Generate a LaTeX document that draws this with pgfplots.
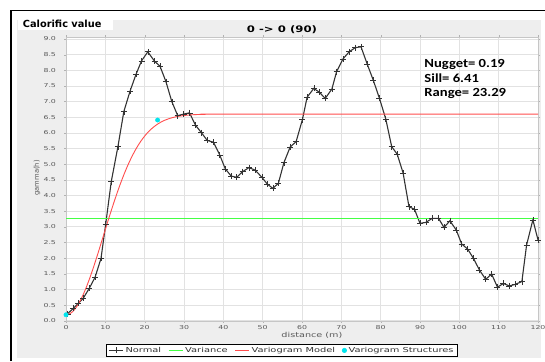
\documentclass[border=0pt]{standalone}
\usepackage{pgfplots}
\pgfplotsset{compat=1.18}
\usepackage{graphicx}
\usepackage{fontspec}
\setmainfont{DejaVu Sans}
\newfontfamily\notefont{Carlito}

\definecolor{panelgray}{HTML}{EEEEEE}
\definecolor{normalgray}{HTML}{333333}
\definecolor{modelred}{HTML}{FF4D4D}
\definecolor{variancegreen}{HTML}{44FF44}
\definecolor{structcyan}{HTML}{00E5EE}
\definecolor{ticktext}{HTML}{5A5A5A}
\definecolor{gridgray}{HTML}{E2E2E2}

% experimental variogram (lag distance, semivariance)
\pgfplotstableread{
x y
0.4 0.22
1.9 0.40
3.1 0.55
4.4 0.72
5.9 1.03
7.4 1.39
8.9 1.99
10.1 3.09
11.5 4.44
13.2 5.56
14.7 6.68
16.3 7.34
17.8 7.87
19.2 8.30
20.8 8.59
22.5 8.29
23.9 8.13
25.4 7.64
26.9 7.00
28.4 6.55
29.9 6.60
31.4 6.64
32.9 6.25
34.4 6.01
35.9 5.76
37.5 5.70
39.1 5.29
40.5 4.85
42.0 4.62
43.4 4.58
44.9 4.76
46.5 4.89
48.1 4.81
49.8 4.58
51.2 4.36
52.6 4.23
54.0 4.39
55.4 5.05
57.0 5.55
58.5 5.72
60.1 6.42
61.3 7.14
63.0 7.42
64.4 7.30
65.9 7.10
67.6 7.40
68.8 7.96
70.4 8.36
72.0 8.59
73.5 8.72
75.0 8.75
76.6 8.19
78.1 7.69
79.7 7.10
81.3 6.44
82.8 5.56
84.2 5.32
85.7 4.72
87.2 3.64
88.6 3.56
90.0 3.11
91.5 3.14
93.1 3.27
94.7 3.27
96.1 2.98
97.6 3.19
99.2 2.90
100.6 2.45
102.1 2.29
103.6 1.99
105.1 1.62
106.7 1.32
108.2 1.49
109.7 1.07
111.2 1.19
112.7 1.11
114.2 1.16
115.9 1.25
117.1 2.42
118.7 3.22
120.0 2.58
}\normaldata

% fitted Gaussian model: nugget 0.19, sill 6.41, range 23.29
\pgfplotstableread{
x y
0 0.190
1 0.225
2 0.330
3 0.501
4 0.733
5 1.018
6 1.347
7 1.712
8 2.101
9 2.505
10 2.913
11 3.318
12 3.710
13 4.083
14 4.432
15 4.753
16 5.044
17 5.304
18 5.532
19 5.730
20 5.898
21 6.041
22 6.159
23 6.256
24 6.335
25 6.398
26 6.447
27 6.486
28 6.516
30 6.556
32 6.578
34 6.589
37 6.597
40 6.600
120 6.600
}\modeldata

\begin{document}
\begin{tikzpicture}[x=1pt,y=1pt]
\useasboundingbox (0,0) rectangle (545,361);
% panel and frame
\fill[panelgray] (17,3) rectangle (541,341);
\draw[line width=1.5pt] (11,0) -- (11,350.5) -- (545,350.5);
\fill[white] (18,331) rectangle (113,344);
\node[anchor=base west, inner sep=0, font=\bfseries\fontsize{9.8}{10}\selectfont] at (22.7,333.7) {Calorific value};

\begin{axis}[
  at={(66pt,40.3pt)}, anchor=south west,
  scale only axis, width=472pt, height=283.3pt,
  xmin=0, xmax=120, ymin=0, ymax=9.05,
  axis background/.style={fill=white},
  axis line style={gray!45},
  xtick={0,10,20,30,40,50,60,70,80,90,100,110,120},
  ytick={0,0.5,1,1.5,2,2.5,3,3.5,4,4.5,5,5.5,6,6.5,7,7.5,8,8.5,9},
  yticklabel style={/pgf/number format/fixed, /pgf/number format/fixed zerofill,
    /pgf/number format/precision=1, xshift=-2pt},
  /pgf/number format/assume math mode=true,
  tick label style={font=\fontsize{5.4}{6}\selectfont, text=ticktext, xscale=1.45},
  xticklabel style={yshift=1pt},
  tick align=outside, major tick length=2pt, tick style={gray!60},
  grid=major, major grid style={gridgray, line width=0.6pt},
  every axis title shift=0pt,
  title={0 -> 0 (90)},
  title style={at={(axis description cs:0.4576,1.028)}, anchor=center,
    font=\bfseries\fontsize{9}{10}\selectfont, xscale=1.3},
  xlabel={distance (m)},
  xlabel style={at={(axis description cs:0.521,-0.053)}, anchor=center,
    font=\fontsize{6.9}{7}\selectfont, text=ticktext, xscale=1.4},
  ylabel={gamma(h)},
  ylabel style={at={(axis description cs:-0.0614,0.504)}, anchor=center,
    font=\fontsize{6.8}{7}\selectfont, text=ticktext},
  legend columns=4,
  legend style={at={(axis description cs:0.4576,-0.105)}, anchor=center,
    draw=black, line width=0.6pt, fill=white,
    font=\fontsize{6.8}{7}\selectfont, text=normalgray,
    inner xsep=2pt, inner ysep=1pt,
    /tikz/every even column/.append style={column sep=5pt}},
  legend image code/.code={%
    \draw[mark repeat=2, mark phase=2, #1]
      plot coordinates {(0pt,0pt) (7pt,0pt) (14pt,0pt)};},
]
\addplot[normalgray, line width=1.1pt, mark=+, mark size=3pt,
  mark options={line width=0.6pt, solid}] table[x=x,y=y] {\normaldata};
\addlegendentry{\scalebox{1.45}[1]{Normal}}

\addplot[draw=variancegreen, line width=1pt] coordinates {(0,3.25) (120,3.25)};
\addlegendentry{\scalebox{1.45}[1]{Variance}}

\addplot[draw=modelred, line width=0.9pt, smooth] table[x=x,y=y] {\modeldata};
\addlegendentry{\scalebox{1.45}[1]{Variogram Model}}

\addplot[only marks, mark=*, mark size=2.2pt, structcyan,
  mark options={draw=structcyan, fill=structcyan}]
  coordinates {(0,0.19) (23.29,6.41)};
\addlegendentry{\scalebox{1.45}[1]{Variogram Structures}}

\node[anchor=base west, inner sep=0, xscale=1.18,
  font=\notefont\bfseries\fontsize{12.4}{13}\selectfont]
  at (rel axis cs:0.759,0.8945) {Nugget= 0.19};
\node[anchor=base west, inner sep=0, xscale=1.18,
  font=\notefont\bfseries\fontsize{12.4}{13}\selectfont]
  at (rel axis cs:0.759,0.840) {Sill= 6.41};
\node[anchor=base west, inner sep=0, xscale=1.18,
  font=\notefont\bfseries\fontsize{12.4}{13}\selectfont]
  at (rel axis cs:0.759,0.791) {Range= 23.29};
\end{axis}
\end{tikzpicture}
\end{document}
